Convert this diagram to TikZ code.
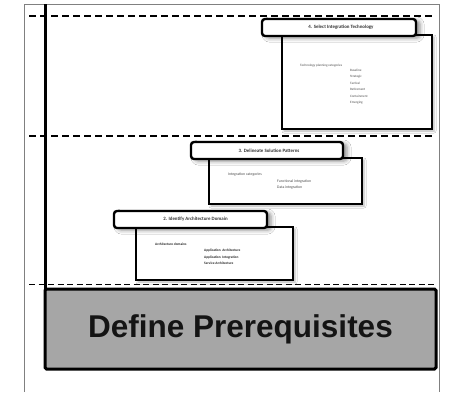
\documentclass[tikz,border=0pt]{standalone}
\usepackage{fontspec}
\setmainfont{Carlito}
\newfontfamily\titlefont{Liberation Sans}
\usetikzlibrary{shadows.blur}
\tikzset{
  x=1pt, y=-1pt,
  frameline/.style={draw=black!50, line width=0.9pt},
  spine/.style={line width=3pt, black},
  divider/.style={dashed, line width=1.4pt, dash pattern=on 7pt off 4pt},
  divthin/.style={line width=1pt, dash pattern=on 6pt off 3.5pt},
  headbox/.style={draw, line width=2.4pt, rounded corners=3pt, fill=white,
    minimum height=17pt, inner sep=0pt,
    blur shadow={shadow xshift=4pt, shadow yshift=-2pt, shadow blur radius=4pt, shadow opacity=45},
    text=black!80, font=\fontsize{4.9}{5.5}\selectfont\bfseries},
  bodybox/.style={draw, line width=2pt, fill=white, inner sep=0pt,
    blur shadow={shadow xshift=2pt, shadow yshift=-2pt, shadow blur radius=2pt, shadow opacity=30}},
  small/.style={inner sep=0pt, anchor=west, text=black!70, font=\fontsize{3.3}{4}\selectfont},
  smallb/.style={inner sep=0pt, anchor=west, text=black!85, font=\fontsize{3.5}{4}\selectfont\bfseries},
  mid/.style={inner sep=0pt, anchor=west, text=black!70, font=\fontsize{3.8}{4.5}\selectfont},
}
\begin{document}
\begin{tikzpicture}
\useasboundingbox (0,0) rectangle (449,392);
\fill[white] (0,0) rectangle (449,392);

% outer frame
\draw[frameline] (24,392) -- (24,4) -- (439,4) -- (439,392);

% phase dividers
\draw[divider] (29,16) -- (432,16);
\draw[divider] (29,136) -- (432,136);
\draw[divthin] (29,284) -- (437,284);

% timeline spine
\draw[spine] (45,4) -- (45,290);

% step 4
\node[bodybox, minimum width=150pt, minimum height=94pt] (b4) at (357,82) {};
\node[headbox, minimum width=154pt] (h4) at (339,27.5) {\hspace*{4pt}4. Select Integration Technology};
\node[small] (t4a) at (300,66) {Technology planning categories};
\node[small] (t4b) at (350,70) {Baseline};
\node[small] (t4c) at (350,76.5) {Strategic};
\node[small] (t4d) at (350,83) {Tactical};
\node[small] (t4e) at (350,89.5) {Retirement};
\node[small] (t4f) at (350,96) {Containment};
\node[small] (t4g) at (350,102.5) {Emerging};

% step 3
\node[bodybox, minimum width=153pt, minimum height=46pt] (b3) at (285.5,181) {};
\node[headbox, minimum width=152pt] (h3) at (267,150.5) {\hspace*{4pt}3. Delineate Solution Patterns};
\node[mid] (t3a) at (228,175) {Integration categories};
\node[mid] (t3b) at (277,181.5) {Functional integration};
\node[mid] (t3c) at (277,188) {Data integration};

% step 2
\node[bodybox, minimum width=157pt, minimum height=53pt] (b2) at (214.5,253.5) {};
\node[headbox, minimum width=153pt] (h2) at (190.5,219.5) {\hspace*{10pt}2. Identify Architecture Domain};
\node[smallb] (t2a) at (155,244.5) {Architecture domains};
\node[smallb] (t2b) at (204,251) {Application\ \ Architecture};
\node[smallb] (t2c) at (204,257.5) {Application\ \ Integration};
\node[smallb] (t2d) at (204,263.5) {Service Architecture};

% step 1
\node[draw, line width=3pt, rounded corners=1.5pt, fill=black!35,
  minimum width=391pt, minimum height=80pt, inner sep=0pt,
  font=\titlefont\bfseries\fontsize{31.5}{36}\selectfont, text=black!92] (h1) at (240.5,329) {Define Prerequisites};
\end{tikzpicture}
\end{document}
